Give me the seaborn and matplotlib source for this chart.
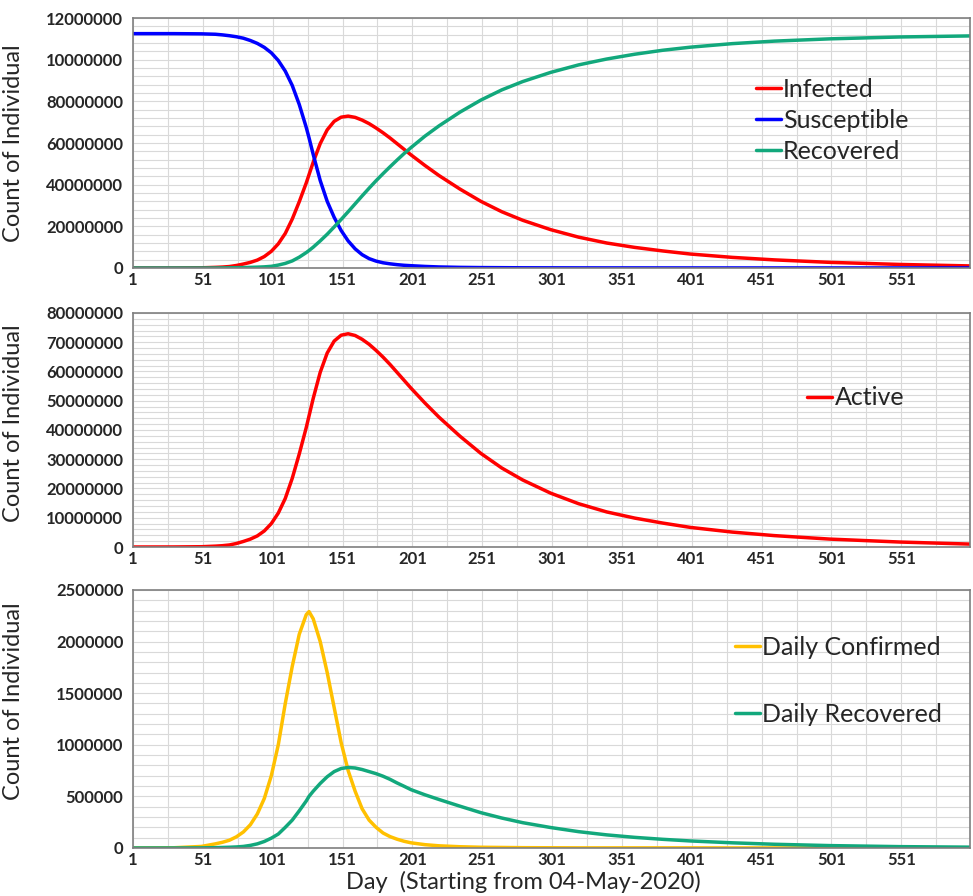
import pandas as pd
import matplotlib
matplotlib.use("Agg")
import matplotlib.pyplot as plt
import seaborn as sns

# datos (millones de personas / dia)
days = [1, 30, 50, 60, 65, 70, 75, 80, 85, 90, 95,
        100, 105, 110, 115, 120, 125, 127, 130, 135, 140,
        145, 150, 155, 160, 165, 170, 175, 180, 185, 190, 195, 200,
        210, 220, 235, 250, 265, 280, 300, 320, 340, 360, 380, 400,
        430, 460, 500, 550, 600]

susceptible = [112.5, 112.5, 112.4, 112.2, 111.9, 111.5, 111.0, 110.3, 109.2, 107.8, 105.9,
               103.3, 99.6, 94.5, 87.6, 78.5, 67.5, 62.5, 54.5, 42.0, 32.0,
               24.3, 18.0, 13.0, 9.2, 6.4, 4.5, 3.3, 2.5, 2.0, 1.6, 1.3, 1.1,
               0.75, 0.5, 0.3, 0.2, 0.15, 0.1, 0.08, 0.06, 0.05, 0.05, 0.04, 0.04,
               0.03, 0.03, 0.03, 0.03, 0.03]

infected = [0.0, 0.02, 0.1, 0.3, 0.45, 0.7, 1.2, 1.9, 2.7, 3.8, 5.5,
            8.0, 11.6, 16.6, 23.5, 31.8, 40.8, 44.8, 50.8, 59.7, 66.3,
            70.4, 72.4, 72.9, 72.3, 71.0, 69.3, 67.2, 64.9, 62.4, 59.7, 57.0, 54.3,
            49.2, 44.4, 37.9, 32.0, 27.0, 22.9, 18.4, 14.8, 12.0, 9.9, 8.2, 6.7,
            5.1, 3.9, 2.7, 1.7, 1.0]

recovered = [0.0, 0.0, 0.0, 0.02, 0.05, 0.1, 0.15, 0.2, 0.3, 0.4, 0.55,
             0.8, 1.4, 2.2, 3.4, 5.2, 7.4, 8.4, 10.0, 13.0, 16.2,
             19.7, 23.3, 27.0, 30.8, 34.6, 38.3, 41.9, 45.3, 48.6, 51.8, 54.9, 57.8,
             63.3, 68.2, 74.8, 80.6, 85.5, 89.5, 93.9, 97.5, 100.3, 102.6, 104.5, 106.0,
             107.7, 108.9, 110.0, 110.9, 111.4]

daily_confirmed = [0.0, 0.002, 0.015, 0.04, 0.055, 0.075, 0.108, 0.155, 0.225, 0.33, 0.48,
                   0.7, 1.0, 1.4, 1.76, 2.07, 2.26, 2.29, 2.22, 2.0, 1.7,
                   1.36, 1.02, 0.75, 0.55, 0.38, 0.27, 0.2, 0.145, 0.11, 0.085, 0.065, 0.05,
                   0.032, 0.021, 0.012, 0.007, 0.005, 0.003, 0.002, 0.001, 0.001, 0.001,
                   0.001, 0.001,
                   0.0005, 0.0005, 0.0005, 0.0005, 0.0005]

daily_recovered = [0.0, 0.0, 0.001, 0.003, 0.005, 0.007, 0.01, 0.015, 0.025, 0.04, 0.063,
                   0.095, 0.135, 0.2, 0.27, 0.36, 0.455, 0.5, 0.55, 0.625, 0.69,
                   0.74, 0.77, 0.78, 0.775, 0.76, 0.74, 0.72, 0.695, 0.665, 0.63, 0.598, 0.565,
                   0.515, 0.47, 0.405, 0.342, 0.29, 0.245, 0.198, 0.158, 0.127, 0.103, 0.084,
                   0.068,
                   0.05, 0.036, 0.023, 0.013, 0.008]

x_ticks = list(range(1, 600, 50))
top_labels = ["0", "20000000", "40000000", "60000000", "80000000", "10000000", "12000000"]
mid_labels = ["0", "10000000", "20000000", "30000000", "40000000", "50000000", "60000000",
              "70000000", "80000000"]
bot_labels = ["0", "500000", "1000000", "1500000", "2000000", "2500000"]

M = 1e6
df = pd.DataFrame({
    "day": days,
    "Infected": [v * M for v in infected],
    "Susceptible": [v * M for v in susceptible],
    "Recovered": [v * M for v in recovered],
    "Daily Confirmed": [v * M for v in daily_confirmed],
    "Daily Recovered": [v * M for v in daily_recovered],
})

sns.set_style("white")
plt.rcParams["font.family"] = ["Lato", "DejaVu Sans"]

RED, BLUE, GREEN, GOLD = "#FF0000", "#0000FF", "#12A87C", "#FFC000"
LW = 2.5

fig = plt.figure(figsize=(9.73, 8.96), dpi=100)
ax1 = fig.add_axes([0.1367, 0.7009, 0.860, 0.279])
ax2 = fig.add_axes([0.1367, 0.3895, 0.860, 0.2612])
ax3 = fig.add_axes([0.1367, 0.0536, 0.860, 0.288])

# panel superior
sns.lineplot(data=df, x="day", y="Infected", color=RED, lw=LW, label="Infected", ax=ax1)
sns.lineplot(data=df, x="day", y="Susceptible", color=BLUE, lw=LW, label="Susceptible", ax=ax1)
sns.lineplot(data=df, x="day", y="Recovered", color=GREEN, lw=LW, label="Recovered", ax=ax1)

# panel medio
sns.lineplot(data=df, x="day", y="Infected", color=RED, lw=LW, label="Active", ax=ax2)

# panel inferior
sns.lineplot(data=df, x="day", y="Daily Confirmed", color=GOLD, lw=LW, label="Daily Confirmed", ax=ax3)
sns.lineplot(data=df, x="day", y="Daily Recovered", color=GREEN, lw=LW, label="Daily Recovered", ax=ax3)

setup = [
    (ax1, 20e6, top_labels, 0.744, 0.592, 0.32, 0.5),
    (ax2, 10e6, mid_labels, 0.806, 0.637, 0.3, 0.53),
    (ax3, 500e3, bot_labels, 0.719, 0.647, 1.75, 0.57),
]
for ax, step, labels, lx, ly, lsp, ycoord in setup:
    ax.set_xlim(1, 600)
    ax.set_ylim(0, step * (len(labels) - 1))
    ax.set_xticks(x_ticks)
    ax.set_xticks(list(range(1, 601, 25)), minor=True)
    ax.set_xticklabels([str(t) for t in x_ticks])
    ax.set_yticks([step * i for i in range(len(labels))])
    ax.set_yticks([step / 5 * i for i in range(5 * (len(labels) - 1) + 1)], minor=True)
    ax.set_yticklabels(labels)
    ax.grid(which="both", color="#D9D9D9", linewidth=0.8)
    ax.set_axisbelow(True)
    ax.tick_params(which="both", length=0, labelsize=12)
    ax.tick_params(axis="y", pad=7)
    ax.tick_params(axis="x", pad=3)
    for lbl in ax.get_xticklabels() + ax.get_yticklabels():
        lbl.set_fontweight("bold")
    for sp in ax.spines.values():
        sp.set_color("#7F7F7F")
        sp.set_linewidth(1.2)
    ax.set_xlabel("")
    ax.set_ylabel("Count of Individual", fontsize=17)
    ax.yaxis.set_label_coords(-0.130, ycoord)
    ax.legend(loc="center left", bbox_to_anchor=(lx, ly), frameon=False, fontsize=18,
              handlelength=1.0, handletextpad=0.1, labelspacing=lsp,
              borderpad=0, borderaxespad=0)

fig.text(523 / 973, 1 - 882 / 896, "Day  (Starting from 04-May-2020)", fontsize=17,
         ha="center", va="center")

plt.savefig("out.png", dpi=100)
